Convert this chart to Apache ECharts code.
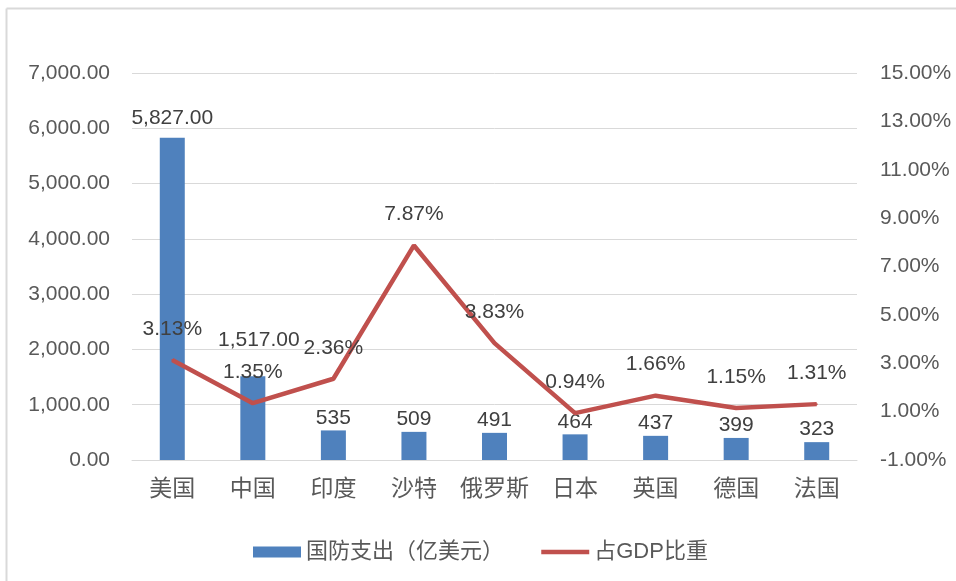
<!DOCTYPE html>
<html>
<head>
<meta charset="utf-8">
<script src="https://cdn.jsdelivr.net/npm/echarts@6/dist/echarts.min.js"></script>
<style>html,body{margin:0;padding:0;background:#fff}#c{width:956px;height:581px}</style>
</head>
<body>
<div id="c"></div>
<script>
const categories = ['美国','中国','印度','沙特','俄罗斯','日本','英国','德国','法国'];
const spending = [5827, 1517, 535, 509, 491, 464, 437, 399, 323];
const spendingLabels = ['5,827.00','1,517.00','535','509','491','464','437','399','323'];
const gdpShare = [3.13, 1.35, 2.36, 7.87, 3.83, 0.94, 1.66, 1.15, 1.31];
const seriesNames = ['国防支出（亿美元）','占GDP比重'];

const FONT = "'Liberation Sans','Noto Sans CJK SC',sans-serif";
const GREY = '#595959';
const RED = '#C0504D';
const labelOffsets = {0:[0,-7], 1:[6,-23]};

const chart = echarts.init(document.getElementById('c'));
chart.setOption({
  animation:false,
  backgroundColor:'#fff',
  textStyle:{fontFamily:FONT},
  graphic:[
    {type:'line', shape:{x1:6.5,y1:8.5,x2:956,y2:8.5}, style:{stroke:'#d9d9d9',lineWidth:2}},
    {type:'line', shape:{x1:6.5,y1:8.5,x2:6.5,y2:581}, style:{stroke:'#d9d9d9',lineWidth:2}}
  ],
  grid:{left:132,right:99,top:73,bottom:121,containLabel:false},
  legend:{
    left:248, top:536, itemGap:35, itemWidth:48, itemHeight:11,
    textStyle:{fontSize:22,color:GREY,fontFamily:FONT},
    data:[
      {name:seriesNames[0],icon:'rect'},
      {name:seriesNames[1],itemStyle:{opacity:0},lineStyle:{width:4.5,color:RED}}
    ]
  },
  xAxis:{
    type:'category', data:categories,
    axisLine:{lineStyle:{color:'#d9d9d9'}},
    axisTick:{show:false},
    axisLabel:{interval:0,fontSize:23,color:GREY,margin:16,fontFamily:"'Noto Sans CJK SC',sans-serif"}
  },
  yAxis:[
    {type:'value',min:0,max:7000,interval:1000,
     axisLabel:{fontSize:21,color:GREY,margin:22,formatter:v=>v.toLocaleString('en-US',{minimumFractionDigits:2,maximumFractionDigits:2})},
     splitLine:{lineStyle:{color:'#d9d9d9'}},axisLine:{show:false},axisTick:{show:false}},
    {type:'value',min:-1,max:15,interval:2,
     axisLabel:{fontSize:21,color:GREY,margin:23,formatter:v=>v.toFixed(2)+'%'},
     splitLine:{show:false},axisLine:{show:false},axisTick:{show:false}}
  ],
  series:[
    {name:seriesNames[0],type:'bar',barWidth:25,yAxisIndex:0,
     itemStyle:{color:'#4F81BD'},
     data:spending.map((v,i)=>({value:v,label:{offset:labelOffsets[i]||[0,0]}})),
     label:{show:true,position:'top',distance:2,fontSize:21,color:'#404040',
       formatter:p=>spendingLabels[p.dataIndex]}
    },
    {name:seriesNames[1],type:'line',yAxisIndex:1,data:gdpShare,
     symbol:'circle',symbolSize:2,showSymbol:true,
     lineStyle:{color:RED,width:4.5},itemStyle:{color:RED},
     label:{show:true,position:'top',distance:19.5,fontSize:21,color:'#404040',
       formatter:p=>p.value.toFixed(2)+'%'}
    }
  ]
});
</script>
</body>
</html>
